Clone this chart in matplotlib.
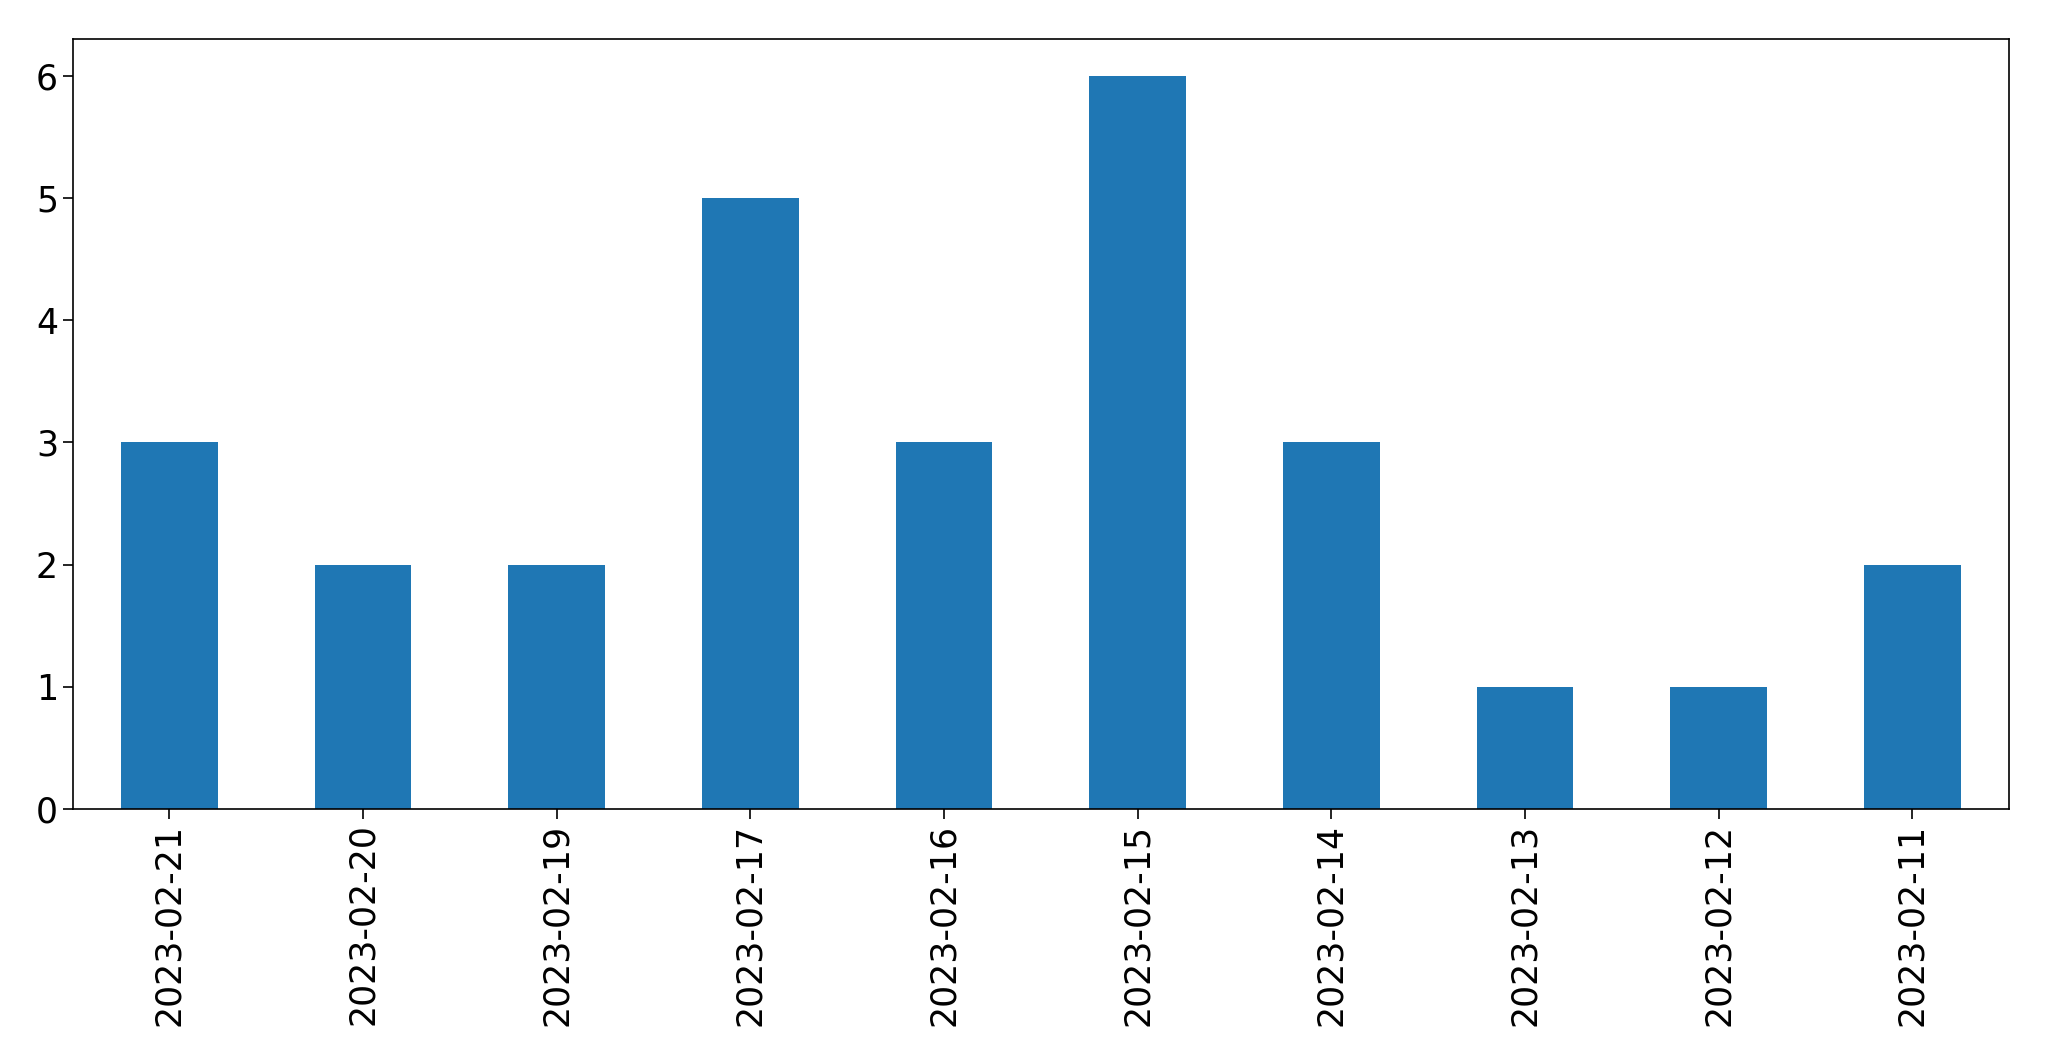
import matplotlib
matplotlib.use("Agg")
import matplotlib.pyplot as plt
import numpy as np

# Daily counts (newest first, as in the original)
dates = ["2023-02-21", "2023-02-20", "2023-02-19", "2023-02-17", "2023-02-16",
         "2023-02-15", "2023-02-14", "2023-02-13", "2023-02-12", "2023-02-11"]
counts = [3, 2, 2, 5, 3, 6, 3, 1, 1, 2]

fig = plt.figure(figsize=(20.49, 10.61), dpi=100)
ax = fig.add_axes([0.0354, 0.2375, 0.9451, 0.7257])

x = np.arange(len(dates))
ax.bar(x, counts, width=0.5, color="#1f77b4")
ax.set_xlim(-0.5, len(dates) - 0.5)
ax.set_ylim(0, max(counts) * 1.05)
ax.set_xticks(x)
ax.set_xticklabels(dates, rotation=90)
ax.tick_params(axis="both", labelsize=25, length=7, width=1.2)
for s in ax.spines.values():
    s.set_linewidth(1.2)

fig.savefig("out.png", dpi=100)
